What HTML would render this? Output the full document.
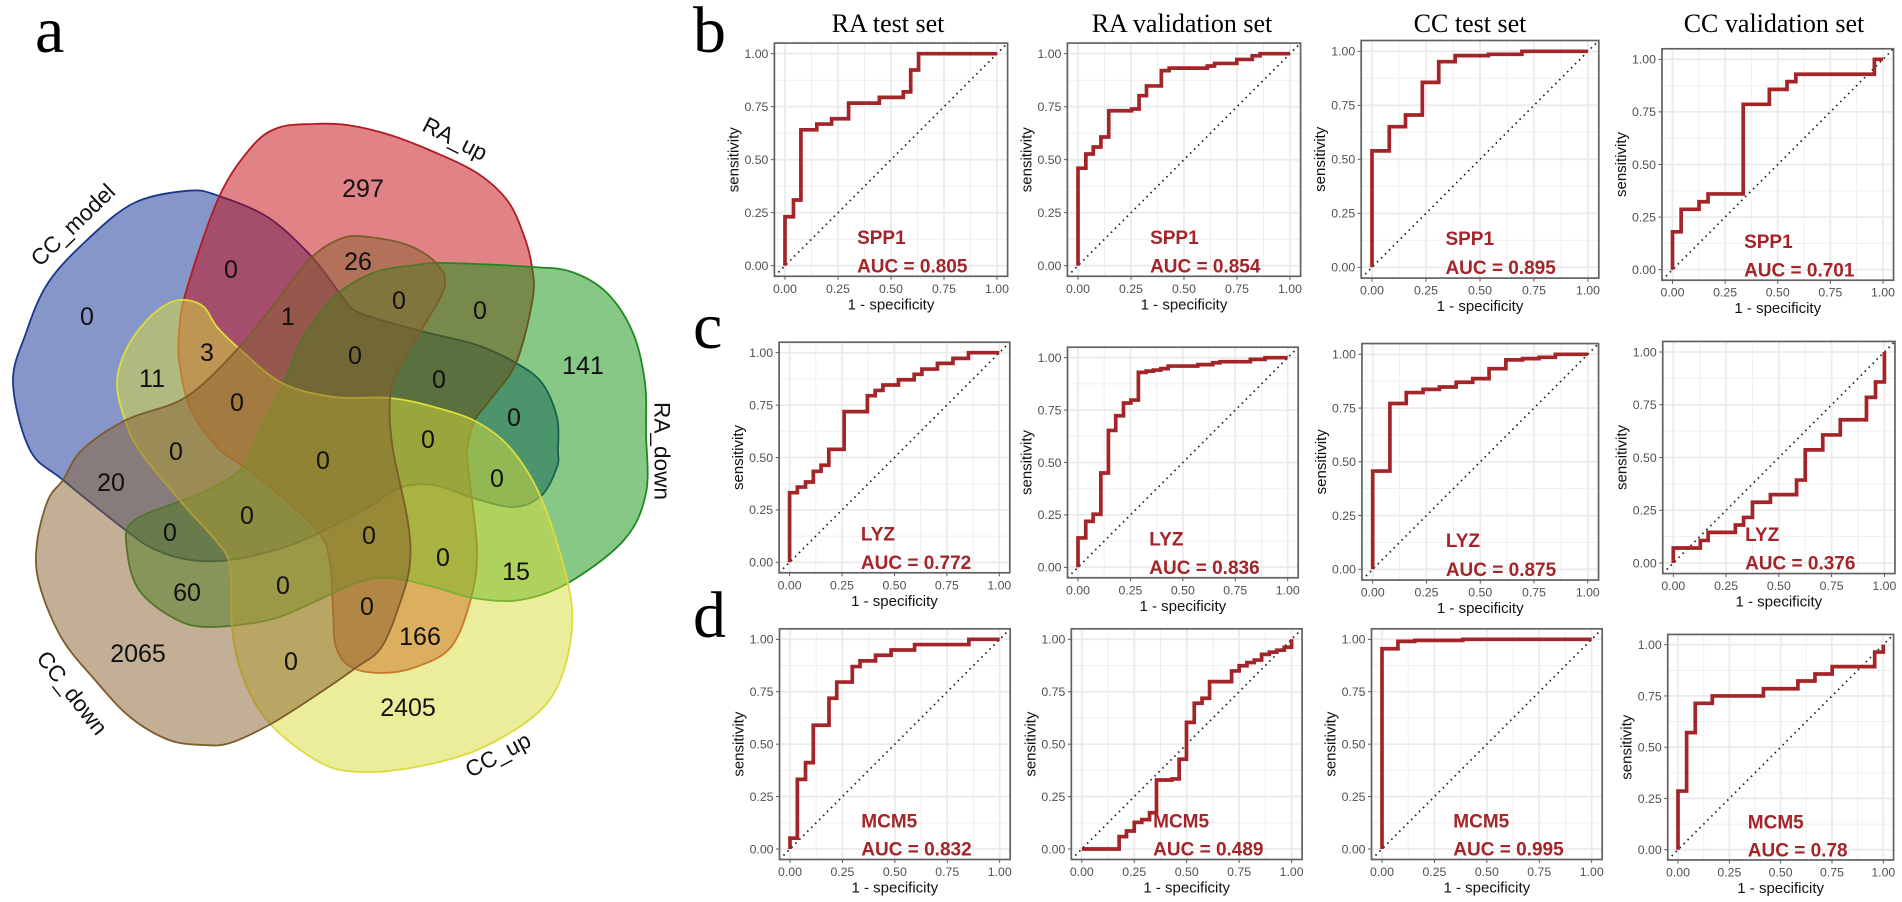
<!DOCTYPE html>
<html lang="en">
<head>
<meta charset="utf-8">
<title>Venn diagram and ROC curves</title>
<style>
html,body{margin:0;padding:0;background:#fff;width:1902px;height:902px;overflow:hidden}
svg{display:block}
.count{font-family:"Liberation Sans",sans-serif;font-size:25px;fill:#111;text-anchor:middle;dominant-baseline:central}
.setlabel{font-family:"Liberation Sans",sans-serif;font-size:22.6px;fill:#111;text-anchor:middle;dominant-baseline:central}
.panel-letter{font-family:"Liberation Serif",serif;font-size:66px;fill:#000}
.col-title{font-family:"Liberation Serif",serif;font-size:26px;fill:#000;text-anchor:middle}
.tick{font-family:"Liberation Sans",sans-serif;font-size:12.3px;fill:#505050}
.axis-title{font-family:"Liberation Sans",sans-serif;font-size:15px;fill:#111;text-anchor:middle}
.note{font-family:"Liberation Sans",sans-serif;font-size:19px;font-weight:bold;fill:#a32529}
</style>
</head>
<body>
<svg id="figure" xmlns="http://www.w3.org/2000/svg" width="1902" height="902" viewBox="0 0 1902 902">
  <rect x="0" y="0" width="1902" height="902" fill="#fff"/>

  <text class="panel-letter" x="35" y="52">a</text>
  <text class="panel-letter" x="693" y="52">b</text>
  <text class="panel-letter" x="693" y="348">c</text>
  <text class="panel-letter" x="693" y="637">d</text>

  <text class="col-title" x="888" y="32">RA test set</text>
  <text class="col-title" x="1182" y="32">RA validation set</text>
  <text class="col-title" x="1470" y="32">CC test set</text>
  <text class="col-title" x="1774" y="32">CC validation set</text>

  <g id="venn">
    <path id="set-cc-model" fill="rgb(15,45,145)" fill-opacity="0.5" stroke="#17378f" stroke-width="1.8"/>
    <path id="set-ra-up" fill="rgb(195,5,15)" fill-opacity="0.5" stroke="#b31b22" stroke-width="1.8"/>
    <path id="set-ra-down" fill="rgb(15,145,15)" fill-opacity="0.5" stroke="#1d8a22" stroke-width="1.8"/>
    <path id="set-cc-up" fill="rgb(215,220,55)" fill-opacity="0.5" stroke="#dcdc3c" stroke-width="1.8"/>
    <path id="set-cc-down" fill="rgb(135,95,45)" fill-opacity="0.5" stroke="#7d5c2c" stroke-width="1.8"/>

    <text class="setlabel" transform="translate(73,225) rotate(-44)">CC_model</text>
    <text class="setlabel" transform="translate(455,139) rotate(27)">RA_up</text>
    <text class="setlabel" transform="translate(662,451) rotate(90)">RA_down</text>
    <text class="setlabel" transform="translate(72,693) rotate(52)">CC_down</text>
    <text class="setlabel" transform="translate(498,755) rotate(-28)">CC_up</text>

    <text class="count" x="363" y="189">297</text>
    <text class="count" x="358" y="262">26</text>
    <text class="count" x="231" y="270">0</text>
    <text class="count" x="87" y="317">0</text>
    <text class="count" x="399" y="301">0</text>
    <text class="count" x="480" y="311">0</text>
    <text class="count" x="288" y="317">1</text>
    <text class="count" x="207" y="353">3</text>
    <text class="count" x="355" y="356">0</text>
    <text class="count" x="583" y="366">141</text>
    <text class="count" x="152" y="379">11</text>
    <text class="count" x="439" y="380">0</text>
    <text class="count" x="237" y="403">0</text>
    <text class="count" x="514" y="418">0</text>
    <text class="count" x="428" y="440">0</text>
    <text class="count" x="176" y="452">0</text>
    <text class="count" x="323" y="461">0</text>
    <text class="count" x="497" y="479">0</text>
    <text class="count" x="111" y="483">20</text>
    <text class="count" x="247" y="516">0</text>
    <text class="count" x="170" y="533">0</text>
    <text class="count" x="369" y="536">0</text>
    <text class="count" x="443" y="558">0</text>
    <text class="count" x="516" y="572">15</text>
    <text class="count" x="283" y="586">0</text>
    <text class="count" x="187" y="593">60</text>
    <text class="count" x="367" y="607">0</text>
    <text class="count" x="420" y="637">166</text>
    <text class="count" x="138" y="654">2065</text>
    <text class="count" x="291" y="662">0</text>
    <text class="count" x="408" y="708">2405</text>
  </g>

  <g id="roc-panels"></g>
</svg>

<script>
// ROC data: false-positive rate at each rise, and sensitivity reached by that rise
const fprB1 = [0,.04,.075,.15,.22,.30,.445,.558,.593,.63];
const tprB1 = [.231,.31,.641,.668,.693,.767,.794,.82,.923,1];
const fprB2 = [0,.037,.072,.108,.145,.253,.288,.323,.393,.43,.61,.644,.749,.822,.859];
const tprB2 = [.46,.527,.56,.607,.731,.739,.802,.848,.92,.932,.942,.954,.973,.99,1];
const fprB3 = [0,.08,.155,.233,.309,.385,.539,.694];
const tprB3 = [.539,.651,.705,.856,.952,.98,.986,1];
const fprB4 = [0,.041,.126,.169,.336,.46,.544,.586,.959];
const tprB4 = [.18,.287,.323,.36,.786,.857,.894,.929,1];

const fprC1 = [0,.037,.076,.113,.15,.187,.26,.371,.408,.445,.519,.594,.631,.705,.779,.853];
const tprC1 = [.332,.359,.383,.434,.463,.539,.719,.795,.82,.846,.871,.897,.922,.949,.973,1];
const fprC2 = [0,.037,.072,.109,.145,.18,.217,.252,.288,.325,.36,.395,.43,.571,.642,.677,.822,.892];
const tprC2 = [.14,.219,.253,.45,.653,.723,.784,.798,.93,.936,.941,.948,.96,.967,.976,.981,.992,1];
const fprC3 = [0,.08,.156,.234,.31,.388,.465,.541,.619,.697,.773,.849];
const tprC3 = [.457,.771,.822,.837,.848,.87,.887,.933,.974,.98,.986,1];
const fprC4 = [0,.128,.165,.294,.333,.375,.46,.584,.625,.708,.791,.915,.958,1];
const tprC4 = [.071,.107,.145,.18,.216,.288,.324,.393,.536,.607,.679,.785,.858,1];

const fprD1 = [0,.035,.074,.111,.186,.223,.297,.334,.408,.482,.594,.853];
const tprD1 = [.052,.332,.412,.59,.719,.796,.87,.897,.924,.949,.975,1];
const fprD2 = [0,.178,.213,.25,.286,.323,.356,.43,.464,.499,.536,.573,.609,.714,.75,.787,.822,.857,.894,.929,.965,1];
const tprD2 = [0,.059,.086,.127,.14,.173,.329,.334,.428,.604,.695,.719,.798,.849,.874,.889,.901,.928,.939,.948,.962,1];
const fprD3 = [0,.076,.156,.385];
const tprD3 = [.955,.99,.995,1];
const fprD4 = [0,.042,.084,.167,.416,.584,.667,.751,.958,1];
const tprD4 = [.286,.571,.714,.75,.785,.823,.857,.893,.964,1];

const geneNames = ['SPP1','LYZ','MCM5'];
const aucLabels = [
  ['0.805','0.854','0.895','0.701'],
  ['0.772','0.836','0.875','0.376'],
  ['0.832','0.489','0.995','0.78']
];
const tickValues = [0,.25,.5,.75,1];
const tickLabels = ['0.00','0.25','0.50','0.75','1.00'];
const minorValues = [.125,.375,.625,.875];

const seriesFpr = [[fprB1,fprB2,fprB3,fprB4],[fprC1,fprC2,fprC3,fprC4],[fprD1,fprD2,fprD3,fprD4]];
const seriesTpr = [[tprB1,tprB2,tprB3,tprB4],[tprC1,tprC2,tprC3,tprC4],[tprD1,tprD2,tprD3,tprD4]];

// Pixel frame of each small multiple: [x at 0, x at 1, y at 1, y at 0]
const frames = [
  [[785,997,53.7,265.7],[1078,1290,53.7,265.7],[1372,1588,51.3,267.3],[1672.5,1883,59.3,269.7]],
  [[789.6,999.3,352.7,562.3],[1078,1287.7,357.7,567.3],[1372.7,1587.8,354.3,569.3],[1673.3,1884.4,352,563]],
  [[790,999.7,639.3,849],[1081.8,1291.6,639.3,849],[1382,1591.7,639.3,849],[1678,1883.3,644.7,849.7]]
];

// Venn outlines: closed shapes
const outlineCCModel = [[188.6,190.7],[219,196],[269,218],[312,257],[342.6,297],[360,313],[420.6,331],[477,345],[516,363],[542,383],[557,417],[558,450],[557,467],[542,495],[514,507],[473,498],[434,485],[399,488],[369,507],[319,533],[282,548],[230,560],[191,560],[156,550],[128,532],[63,480],[30,450],[13,383],[26,333],[48,283],[87,240],[134,203]];
const outlineRAUp = [[312,124],[347,125],[390,135],[434,152],[477,173],[507,200],[523,233],[532,267],[532.5,300],[516,363],[490,400],[475,420],[467.5,447],[468,467],[477,550],[470.5,600],[451,647],[416,667],[382,673],[351,667],[336,647],[333,610],[330,563],[319,533],[277.5,493],[241,465],[217,447],[191,410],[180,367],[179,333],[186.5,290],[219,197],[251.5,147],[277.5,128]];
const outlineRADown = [[447,263],[533,267],[572,272],[607,293],[633,333],[645,383],[646,433],[646,493],[624,540],[568,583],[520,600],[473,598],[434,587],[390,578],[356,583],[312,603],[269,620],[208,627],[173.5,618],[139,590],[127,550],[132,522],[178,502],[208,490],[243,467],[260,430],[282,387],[303.5,337],[334,297],[373,273],[416,265]];
const outlineCCUp = [[186.5,300],[204,307],[217,327],[238.5,348],[282,383],[334,397],[390,398],[434,407],[477,422],[512,450],[542,500],[568,583],[571.5,633],[559,683],[533,717],[477,750],[416,767],[360,772],[321,763],[273,727],[247,687],[233,637],[230,567],[217,542],[182,503],[139,450],[124,417],[117,383],[126,350],[147,320],[169,303]];
const outlineCCDown = [[126,420],[186,397],[238.5,348],[277.5,300],[312,257],[342.6,238],[368.6,237],[407.6,245],[436,263],[444.5,287],[420.6,331],[399,367],[390,398],[392.5,447],[407.6,520],[410,563],[401,600],[381.6,647],[355.6,668],[312,698],[269,725],[230,743],[204,745],[169,740],[130,717],[95,680],[61,637],[39,583],[37,543],[48,500],[63,480],[82,450]];

function smoothClosed(pts){
  const n = pts.length;
  let d = 'M' + pts[0][0] + ' ' + pts[0][1];
  for(let i = 0; i < n; i++){
    const p0 = pts[(i - 1 + n) % n], p1 = pts[i], p2 = pts[(i + 1) % n], p3 = pts[(i + 2) % n];
    const c1x = p1[0] + (p2[0] - p0[0]) / 6, c1y = p1[1] + (p2[1] - p0[1]) / 6;
    const c2x = p2[0] - (p3[0] - p1[0]) / 6, c2y = p2[1] - (p3[1] - p1[1]) / 6;
    d += 'C' + c1x.toFixed(1) + ' ' + c1y.toFixed(1) + ' ' + c2x.toFixed(1) + ' ' + c2y.toFixed(1) + ' ' + p2[0] + ' ' + p2[1];
  }
  return d + 'Z';
}
document.getElementById('set-cc-model').setAttribute('d', smoothClosed(outlineCCModel));
document.getElementById('set-ra-up').setAttribute('d', smoothClosed(outlineRAUp));
document.getElementById('set-ra-down').setAttribute('d', smoothClosed(outlineRADown));
document.getElementById('set-cc-up').setAttribute('d', smoothClosed(outlineCCUp));
document.getElementById('set-cc-down').setAttribute('d', smoothClosed(outlineCCDown));

const NS = 'http://www.w3.org/2000/svg';
function mk(parent, tag, attrs, text){
  const el = document.createElementNS(NS, tag);
  for(const k in attrs){ el.setAttribute(k, attrs[k]); }
  if(text !== undefined){ el.textContent = text; }
  parent.appendChild(el);
  return el;
}

function stepPath(fpr, tpr, sx, sy){
  let d = 'M' + sx(fpr[0]).toFixed(2) + ' ' + sy(0).toFixed(2);
  for(let i = 0; i < fpr.length; i++){
    d += 'H' + sx(fpr[i]).toFixed(2) + 'V' + sy(tpr[i]).toFixed(2);
  }
  return d + 'H' + sx(1).toFixed(2);
}

function drawPanel(root, r, c){
  const f = frames[r][c];
  const sx = function(v){ return f[0] + v * (f[1] - f[0]); };
  const sy = function(v){ return f[3] - v * (f[3] - f[2]); };
  const left = sx(-.05), right = sx(1.05), top = sy(1.05), bottom = sy(-.05);
  const id = geneNames[r].toLowerCase() + '-' + (c + 1);

  const g = mk(root, 'g', {});
  
  

  minorValues.forEach(function(v){
    const gx = mk(g, 'line', {x1:sx(v), x2:sx(v), y1:top, y2:bottom, stroke:'#efefef', 'stroke-width':1});
    
    
    const gy = mk(g, 'line', {x1:left, x2:right, y1:sy(v), y2:sy(v), stroke:'#efefef', 'stroke-width':1});
    
    
  });
  tickValues.forEach(function(v, i){
    const gx = mk(g, 'line', {x1:sx(v), x2:sx(v), y1:top, y2:bottom, stroke:'#ebebeb', 'stroke-width':1.8});
    
    
    const gy = mk(g, 'line', {x1:left, x2:right, y1:sy(v), y2:sy(v), stroke:'#ebebeb', 'stroke-width':1.8});
    
    

    const tx = mk(g, 'line', {x1:sx(v), x2:sx(v), y1:bottom, y2:bottom + 3.5, stroke:'#444', 'stroke-width':.9});
    
    
    const ty = mk(g, 'line', {x1:left - 3.5, x2:left, y1:sy(v), y2:sy(v), stroke:'#444', 'stroke-width':.9});
    
    

    const lx = mk(g, 'text', {class:'tick', x:sx(v), y:bottom + 16.5, 'text-anchor':'middle'}, tickLabels[i]);
    
    
    const ly = mk(g, 'text', {class:'tick', x:left - 6, y:sy(v) + 4.3, 'text-anchor':'end'}, tickLabels[i]);
    
    
  });

  const diag = mk(g, 'line', {x1:sx(-.05), y1:sy(-.05), x2:sx(1.05), y2:sy(1.05), stroke:'#222', 'stroke-width':1.7, 'stroke-dasharray':'1.6 4'});
  
  

  const curve = mk(g, 'path', {d:stepPath(seriesFpr[r][c], seriesTpr[r][c], sx, sy), fill:'none', stroke:'#a32529', 'stroke-width':3.7, 'stroke-linejoin':'miter'});
  
  

  const frame = mk(g, 'rect', {x:left, y:top, width:right - left, height:bottom - top, fill:'none', stroke:'#626262', 'stroke-width':1.7});
  
  

  const gene = mk(g, 'text', {class:'note', x:sx(.34), y:sy(.135) + 6.7}, geneNames[r]);
  
  
  const auc = mk(g, 'text', {class:'note', x:sx(.34), y:sy(0) + 6.7}, 'AUC = ' + aucLabels[r][c]);
  
  

  const xt = mk(g, 'text', {class:'axis-title', x:(left + right) / 2, y:bottom + 33}, '1 - specificity');
  
  
  const yt = mk(g, 'text', {class:'axis-title', transform:'translate(' + (left - 36) + ',' + ((top + bottom) / 2) + ') rotate(-90)'}, 'sensitivity');
  
  
}

const panelsRoot = document.getElementById('roc-panels');
for(let r = 0; r < frames.length; r++){
  for(let c = 0; c < frames[r].length; c++){
    drawPanel(panelsRoot, r, c);
  }
}
</script>
</body>
</html>
